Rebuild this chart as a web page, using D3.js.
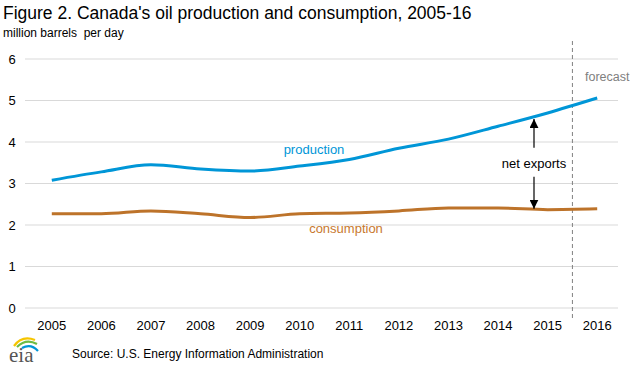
<!DOCTYPE html>
<html><head><meta charset="utf-8">
<script src="https://cdn.jsdelivr.net/npm/d3@7"></script>
<style>body{margin:0;background:#fff;} svg{display:block;font-family:Arial,"Liberation Sans",sans-serif;} text{white-space:pre;}</style>
</head><body>
<script>
const years = ["2005","2006","2007","2008","2009","2010","2011","2012","2013","2014","2015","2016"];
const production = [3.08,3.28,3.45,3.35,3.30,3.42,3.58,3.85,4.07,4.38,4.70,5.06];
const consumption = [2.27,2.27,2.34,2.27,2.18,2.27,2.29,2.34,2.41,2.41,2.37,2.39];
const yTicks = [0,1,2,3,4,5,6];

const W=633,H=368;
const svg=d3.select("body").append("svg").attr("width",W).attr("height",H);
const x=d3.scaleBand().domain(years).range([27,622]);
const y=d3.scaleLinear().domain([0,6]).range([308,59]);

svg.append("text").attr("x",3).attr("y",19).attr("font-size",17.5).attr("fill","#000")
  .text("Figure 2. Canada's oil production and consumption, 2005-16");
svg.append("text").attr("x",3).attr("y",37).attr("font-size",12).attr("fill","#000")
  .text("million barrels  per day");

// gridlines
svg.append("g").selectAll("line").data(yTicks).join("line")
  .attr("x1",25).attr("x2",618).attr("y1",d=>y(d)).attr("y2",d=>y(d))
  .attr("stroke","#d9d9d9").attr("stroke-width",1);
// y labels
svg.append("g").selectAll("text").data(yTicks).join("text")
  .attr("x",12).attr("y",d=>y(d)+4.5).attr("text-anchor","middle").attr("font-size",13).attr("fill","#000")
  .text(d=>d);
// x labels
svg.append("g").selectAll("text").data(years).join("text")
  .attr("x",d=>x(d)+x.bandwidth()/2).attr("y",330).attr("text-anchor","middle").attr("font-size",13).attr("fill","#000")
  .text(d=>d);

// forecast dashed line
const fx = x("2016");
svg.append("line").attr("x1",fx).attr("x2",fx).attr("y1",41).attr("y2",318)
  .attr("stroke","#808080").attr("stroke-width",1).attr("stroke-dasharray","4,3");
svg.append("text").attr("x",585).attr("y",81).attr("font-size",12.5).attr("fill","#808080").text("forecast");

const line=d3.line().x((d,i)=>x(years[i])+x.bandwidth()/2).y(d=>y(d)).curve(d3.curveMonotoneX);
svg.append("path").attr("d",line(consumption)).attr("fill","none").attr("stroke","#bd732a").attr("stroke-width",3);
svg.append("path").attr("d",line(production)).attr("fill","none").attr("stroke","#0096d7").attr("stroke-width",3);

svg.append("text").attr("x",314).attr("y",154).attr("text-anchor","middle").attr("font-size",13).attr("fill","#0096d7").text("production");
svg.append("text").attr("x",346).attr("y",233).attr("text-anchor","middle").attr("font-size",13).attr("fill","#c8782e").text("consumption");

// net exports arrow
const ax=534;
const defs=svg.append("defs");
defs.append("marker").attr("id","ah").attr("viewBox","0 0 10 10").attr("refX",10).attr("refY",5)
  .attr("markerWidth",9).attr("markerHeight",9).attr("orient","auto-start-reverse").attr("markerUnits","userSpaceOnUse")
  .append("path").attr("d","M0,0L10,5L0,10z").attr("fill","#000");
svg.append("line").attr("x1",ax).attr("x2",ax).attr("y1",y(4.6)+2).attr("y2",y(3.86)).attr("stroke","#000").attr("stroke-width",1.2).attr("marker-start","url(#ah)");
svg.append("line").attr("x1",ax).attr("x2",ax).attr("y1",y(3.16)).attr("y2",y(2.37)-1).attr("stroke","#000").attr("stroke-width",1.2).attr("marker-end","url(#ah)");
svg.append("text").attr("x",ax).attr("y",168).attr("text-anchor","middle").attr("font-size",13).attr("fill","#000").text("net exports");

// source
svg.append("text").attr("x",72).attr("y",358).attr("font-size",12).attr("fill","#000").text("Source: U.S. Energy Information Administration");

// eia logo
const lg=svg.append("g");
lg.append("path").attr("d","M14,346 Q22,335 35,340").attr("fill","none").attr("stroke","#f6c500").attr("stroke-width",2.2);
lg.append("path").attr("d","M17,347 Q26,338 37,344").attr("fill","none").attr("stroke","#6dbb45").attr("stroke-width",2.2);
lg.append("path").attr("d","M22,348 Q31,343 38,351").attr("fill","none").attr("stroke","#0096d7").attr("stroke-width",2.2);
lg.append("text").attr("x",9).attr("y",362).attr("font-family","'Liberation Serif',serif").attr("font-size",21).attr("fill","#555").text("eia");
</script>
</body></html>
